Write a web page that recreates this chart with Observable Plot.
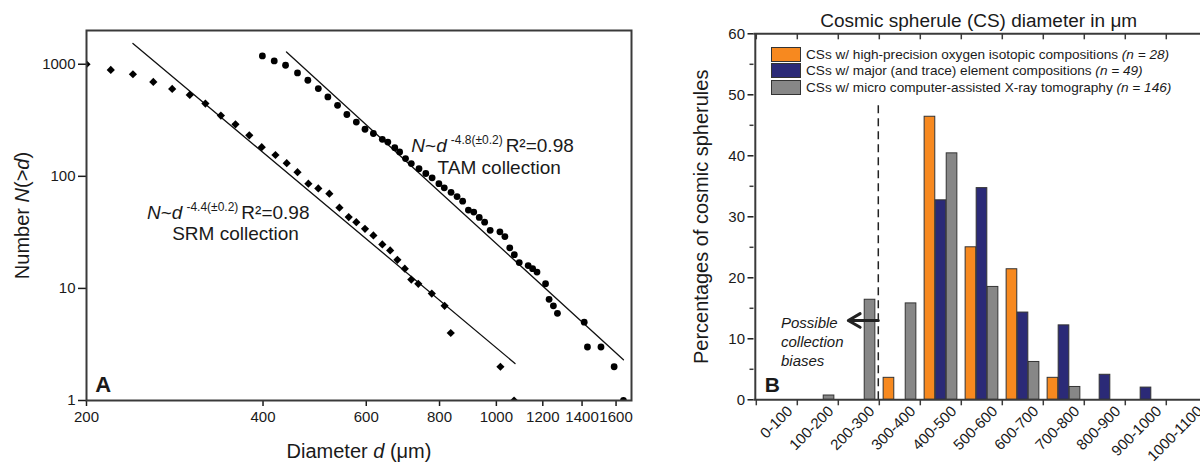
<!DOCTYPE html>
<html><head><meta charset="utf-8">
<script src="https://cdn.jsdelivr.net/npm/d3@7"></script>
<script src="https://cdn.jsdelivr.net/npm/@observablehq/plot@0.6"></script>
<style>
html,body{margin:0;padding:0;background:#fff;overflow:hidden;width:1200px;height:466px}
#wrap{position:relative;width:1200px;height:466px;overflow:hidden;font-family:"Liberation Sans",Arial,sans-serif;color:#1a1a1a}
#a{position:absolute;left:0;top:0;width:660px;height:466px}
#b{position:absolute;left:660px;top:0;width:560px;height:466px}
#legend{position:absolute;left:771px;top:46px;font-size:13.6px;color:#1a1a1a}
.row{display:flex;align-items:center;height:16.6px;white-space:nowrap}
.sw{width:28px;height:13px;border:1px solid #333;margin-right:5px;flex:none}
</style></head><body>
<div id="wrap"><div id="a"></div><div id="b"></div><div id="legend"></div></div>
<script>
// ---------- Panel A data: cumulative number N(>d) vs diameter d ----------
const srmD = [200,220,240,260,280,300,319,339,359,379,398,420,439,458,478,497,519,540,560,577,597,617,639,659,678,698,716,736,776,816,836,1016,1072];
const srmN = [1000,889,814,695,602,532,446,348,291,232,182,155,131,109,86,78,70,52.5,43.3,39,34,29.7,24.7,21.8,18,15,12,11,9,7,4,2,1];
const tamD = [399,418,437,458,477,497,516,536,556,577,597,617,639,653,671,684,700,716,738,758,777,798,815,837,857,876,896,915,935,955,976,1014,1034,1054,1073,1094,1133,1153,1173,1213,1230,1251,1271,1412,1430,1508,1588,1647];
const tamN = [1186,1071,979,836,720,607,511,430,356,305,263,241,214,202,180,165,144,130,117,106,97,86,79,72,66,60,50,48,43,39,33,32,29,23,20,17,16,15,14,11,8,7,6,5,3,3,2,1];
// power-law fit lines (end points)
const fitSrmD = [240, 1076];
const fitSrmN = [1530, 2.14];
const fitTamD = [438.6, 1647];
const fitTamN = [1288, 2.31];
const xTicksA = [200,400,600,800,1000,1200,1400,1600];
const yTicksA = [1,10,100,1000];

// ---------- Panel B data: percentage of spherules per diameter bin ----------
const bins = ["0-100","100-200","200-300","300-400","400-500","500-600","600-700","700-800","800-900","900-1000","1000-1100"];
const oxygenPct = [0,0,0,3.6,46.4,25.0,21.4,3.6,0,0,0];
const majorPct  = [0,0,0,0,32.7,34.7,14.3,12.2,4.1,2.0,0];
const tomoPct   = [0,0.7,16.4,15.8,40.4,18.5,6.2,2.1,0,0,0];
const seriesNames = ["CSs w/ high-precision oxygen isotopic compositions","CSs w/ major (and trace) element compositions","CSs w/ micro computer-assisted X-ray tomography"];
const seriesN = [28,49,146];
const seriesColors = ["#F7891F","#2B2A77","#878787"];
const yTicksB = [0,10,20,30,40,50,60];
const yMinorB = [5,15,25,35,45,55];

const font = '"Liberation Sans", Arial, sans-serif';
const ink = "#3a3a3a";

// ---------- Panel A ----------
const srm = srmD.map((d,i)=>({d, n: srmN[i]}));
const tam = tamD.map((d,i)=>({d, n: tamN[i]}));
const fitSrm = fitSrmD.map((d,i)=>({d, n: fitSrmN[i]}));
const fitTam = fitTamD.map((d,i)=>({d, n: fitTamN[i]}));

const A = Plot.plot({
  width: 660, height: 466,
  marginLeft: 86, marginRight: 29, marginTop: 30, marginBottom: 66,
  style: {fontFamily: font, background: "white", color: "#1a1a1a", maxWidth: "none", overflow: "visible"},
  x: {type: "log", domain: [200, 1700]},
  y: {type: "log", domain: [1, 2000]},
  marks: [
    Plot.line(fitSrm, {x: "d", y: "n", stroke: "#111", strokeWidth: 1.3}),
    Plot.line(fitTam, {x: "d", y: "n", stroke: "#111", strokeWidth: 1.3}),
    Plot.dot(srm, {x: "d", y: "n", symbol: "diamond2", r: 3.7, fill: "#000", clip: true}),
    Plot.dot(tam, {x: "d", y: "n", r: 3.4, fill: "#000", clip: true}),
    Plot.axisX({ticks: xTicksA, tickFormat: d => String(d), tickSize: 6, tickPadding: 5, fontSize: 15, label: null, strokeWidth: 1.5}),
    Plot.axisY({ticks: yTicksA, tickFormat: d => String(d), tickSize: 8, tickPadding: 3, fontSize: 15, label: null, strokeWidth: 1.5}),
    Plot.text(["§srm-eq"], {x: 253.6, y: 41.3, text: d => d, textAnchor: "start", lineAnchor: "bottom", fontSize: 19}),
    Plot.text(["SRM collection"], {x: 280, y: 26.8, text: d => d, textAnchor: "start", lineAnchor: "bottom", fontSize: 19}),
    Plot.text(["§tam-eq"], {x: 716, y: 165, text: d => d, textAnchor: "start", lineAnchor: "bottom", fontSize: 19}),
    Plot.text(["TAM collection"], {x: 794, y: 104, text: d => d, textAnchor: "start", lineAnchor: "bottom", fontSize: 19}),
    Plot.text(["A"], {x: 207, y: 1.18, text: d => d, textAnchor: "start", lineAnchor: "bottom", fontSize: 22, fontWeight: "bold"}),
    Plot.text(["§ylab-a"], {frameAnchor: "left", rotate: -90, dx: -64, text: d => d, textAnchor: "middle", lineAnchor: "middle", fontSize: 20}),
    Plot.text(["§xlab-a"], {frameAnchor: "bottom", dy: 57, lineAnchor: "bottom", textAnchor: "middle", text: d => d, fontSize: 20}),
    Plot.frame({stroke: ink, strokeWidth: 2})
  ]
});
document.getElementById("a").append(A);

function rich(svg, key, html) {
  svg.querySelectorAll("text").forEach(t => { if (t.textContent === key) t.innerHTML = html; });
}
const eq = (p) => `<tspan font-style="italic">N</tspan>~<tspan font-style="italic">d</tspan><tspan dx="4" dy="-8" font-size="12">${p}</tspan><tspan dx="3" dy="8">R²=0.98</tspan>`;
rich(A, "§srm-eq", eq("-4.4(±0.2)"));
rich(A, "§tam-eq", eq("-4.8(±0.2)"));
rich(A, "§ylab-a", `Number <tspan font-style="italic">N</tspan>(&gt;<tspan font-style="italic">d</tspan>)`);
rich(A, "§xlab-a", `Diameter <tspan font-style="italic">d</tspan> (μm)`);

// ---------- Panel B ----------
const mL = 93.5, mR = 10, mT = 33.3, mB = 66.7, Hb = 466;
const innerW = 455.4, Wb = mL + innerW + mR, innerH = Hb - mT - mB;
const bw = innerW / bins.length;
const pad = 0.1 * bw, barW = 0.8 * bw / 3;
const seriesVals = [oxygenPct, majorPct, tomoPct];
const barMarks = seriesVals.map((vals, s) => Plot.barY(
  bins.map((bin, i) => ({bin, value: vals[i]})).filter(d => d.value > 0),
  {x: "bin", y: "value", fill: seriesColors[s], stroke: "#333", strokeWidth: 1,
   insetLeft: pad + s * barW, insetRight: bw - pad - (s + 1) * barW}
));

const B = Plot.plot({
  width: Wb, height: Hb,
  marginLeft: mL, marginRight: mR, marginTop: mT, marginBottom: mB,
  style: {fontFamily: font, background: "transparent", color: "#1a1a1a", maxWidth: "none", overflow: "visible"},
  x: {type: "band", domain: bins, padding: 0, axis: null},
  y: {domain: [0, 60], axis: null},
  marks: [
    ...barMarks,
    Plot.ruleX(["300-400"], {x: d => d, dx: -bw / 2 - 1, y1: 0, y2: 49, stroke: "#222", strokeWidth: 1.5, strokeDasharray: "8,5"}),
    Plot.arrow(["bias"], {x1: () => "300-400", x2: () => "200-300", y1: 13, y2: 13, dx: -bw / 2 - 1, insetEnd: 11, stroke: "#222", strokeWidth: 3, headLength: 9}),
    Plot.text(["Possible\ncollection\nbiases"], {x: () => "0-100", y: 9.6, dx: 4, text: d => d, textAnchor: "start", lineAnchor: "middle", lineHeight: 1.27, fontSize: 15, fontStyle: "italic"}),
    Plot.text(["B"], {x: () => "0-100", y: 1.25, dx: -12.3, text: d => d, textAnchor: "start", lineAnchor: "bottom", fontSize: 21, fontWeight: "bold"}),
    Plot.ruleY([0, 60], {stroke: ink, strokeWidth: 2}),
    Plot.tickX(["0-100"], {x: d => d, dx: -bw / 2 - 1, stroke: ink, strokeWidth: 2}),
    Plot.tickX(bins, {x: d => d, dx: -bw / 2, insetBottom: innerH - 6, stroke: ink, strokeWidth: 1.5}),
    Plot.tickX(bins, {x: d => d, dx: -bw / 2, insetTop: innerH, insetBottom: -6, stroke: ink, strokeWidth: 1.5}),
    Plot.tickY(yMinorB, {y: d => d, insetLeft: -4, insetRight: innerW, stroke: ink, strokeWidth: 1.5}),
    Plot.axisY({ticks: yTicksB, tickSize: 6, tickPadding: 3, fontSize: 15, label: null, strokeWidth: 1.5}),
    Plot.axisX({tickSize: 0, tickRotate: -45, tickPadding: 9, dx: 13, fontSize: 15, label: null}),
    Plot.text(["Cosmic spherule (CS) diameter in μm"], {frameAnchor: "top", dy: -6.6, dx: -3, lineAnchor: "bottom", textAnchor: "middle", text: d => d, fontSize: 19}),
    Plot.text(["Percentages of cosmic spherules"], {frameAnchor: "left", rotate: -90, dx: -52.5, textAnchor: "middle", lineAnchor: "middle", text: d => d, fontSize: 20})
  ]
});
document.getElementById("b").append(B);

// legend (HTML, built from the series arrays)
const lg = document.getElementById("legend");
seriesNames.forEach((name, i) => {
  const row = document.createElement("div");
  row.className = "row";
  row.innerHTML = `<span class="sw" style="background:${seriesColors[i]}"></span><span>${name} <i>(n = ${seriesN[i]})</i></span>`;
  lg.append(row);
});
</script>
</body></html>
